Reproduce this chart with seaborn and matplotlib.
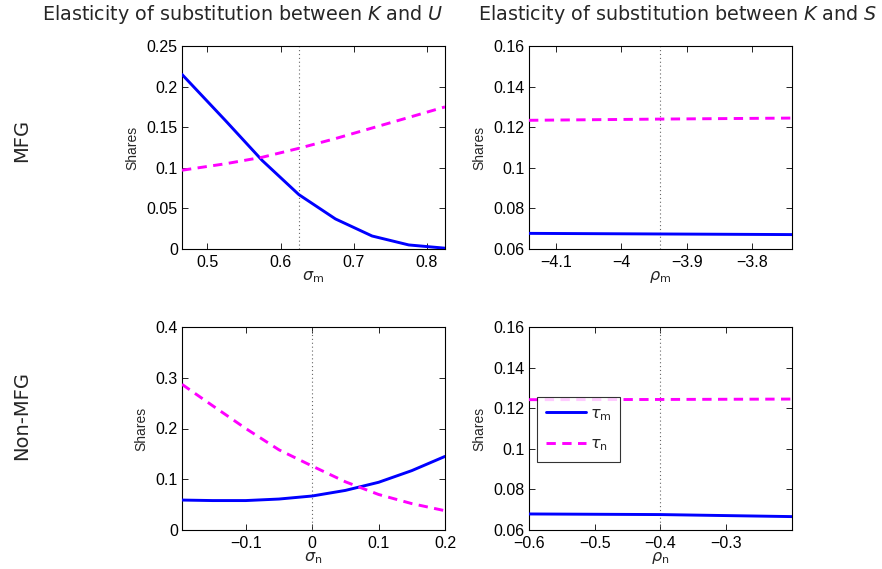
import matplotlib
matplotlib.use("Agg")
import matplotlib.pyplot as plt
import seaborn as sns
import pandas as pd

# ---------------- data ----------------
# MFG, elasticity K-U (sigma_m)
mfg_sigma = [0.4655, 0.525, 0.575, 0.625, 0.675, 0.725, 0.775, 0.8245]
mfg_sigma_tau_m = [0.215, 0.158, 0.109, 0.067, 0.037, 0.016, 0.005, 0.001]
mfg_sigma_tau_n = [0.097, 0.105, 0.113, 0.124, 0.136, 0.149, 0.162, 0.175]

# MFG, elasticity K-S (rho_m)
mfg_rho = [-4.141, -3.94, -3.739]
mfg_rho_tau_m = [0.0677, 0.0674, 0.0671]
mfg_rho_tau_n = [0.1234, 0.1240, 0.1245]

# Non-MFG, elasticity K-U (sigma_n)
non_sigma = [-0.196, -0.15, -0.1, -0.05, 0.0, 0.05, 0.1, 0.15, 0.2]
non_sigma_tau_m = [0.059, 0.058, 0.058, 0.061, 0.067, 0.078, 0.094, 0.117, 0.145]
non_sigma_tau_n = [0.287, 0.245, 0.200, 0.158, 0.126, 0.095, 0.070, 0.052, 0.038]

# Non-MFG, elasticity K-S (rho_n)
non_rho = [-0.6, -0.4, -0.2]
non_rho_tau_m = [0.0679, 0.0676, 0.0666]
non_rho_tau_n = [0.1242, 0.1243, 0.1245]

baselines = [0.625, -3.94, 0.0, -0.4]

col_titles = [r"Elasticity of substitution between $K$ and $U$",
              r"Elasticity of substitution between $K$ and $S$"]
row_titles = ["MFG", "Non-MFG"]
xlabels = [r"$\sigma_{\rm m}$", r"$\rho_{\rm m}$", r"$\sigma_{\rm n}$", r"$\rho_{\rm n}$"]
series_labels = [r"$\tau_{\rm m}$", r"$\tau_{\rm n}$"]

ylims = [(0, 0.25), (0.06, 0.16), (0, 0.4), (0.06, 0.16)]
yticks = [[0, 0.05, 0.1, 0.15, 0.2, 0.25],
          [0.06, 0.08, 0.1, 0.12, 0.14, 0.16],
          [0, 0.1, 0.2, 0.3, 0.4],
          [0.06, 0.08, 0.1, 0.12, 0.14, 0.16]]
xticks = [[0.5, 0.6, 0.7, 0.8],
          [-4.1, -4.0, -3.9, -3.8],
          [-0.1, 0, 0.1, 0.2],
          [-0.6, -0.5, -0.4, -0.3]]
xticklabels = [["0.5", "0.6", "0.7", "0.8"],
               ["\u22124.1", "\u22124", "\u22123.9", "\u22123.8"],
               ["\u22120.1", "0", "0.1", "0.2"],
               ["\u22120.6", "\u22120.5", "\u22120.4", "\u22120.3"]]
yticklabels = [["0", "0.05", "0.1", "0.15", "0.2", "0.25"],
               ["0.06", "0.08", "0.1", "0.12", "0.14", "0.16"],
               ["0", "0.1", "0.2", "0.3", "0.4"],
               ["0.06", "0.08", "0.1", "0.12", "0.14", "0.16"]]

panels = [
    (mfg_sigma, mfg_sigma_tau_m, mfg_sigma_tau_n),
    (mfg_rho, mfg_rho_tau_m, mfg_rho_tau_n),
    (non_sigma, non_sigma_tau_m, non_sigma_tau_n),
    (non_rho, non_rho_tau_m, non_rho_tau_n),
]

# ---------------- style ----------------
sns.set_style("ticks")
plt.rcParams["font.family"] = ["Liberation Sans", "DejaVu Sans"]
plt.rcParams["mathtext.fontset"] = "dejavusans"

fig = plt.figure(figsize=(8.82, 5.69), dpi=100)

W = 882.0
H = 569.0
lefts = [182, 529]
tops = [46, 327]
aw, ah = 263, 203

palette = {series_labels[0]: "#0000FF", series_labels[1]: "#FF00FF"}
dashes = {series_labels[0]: "", series_labels[1]: (3.2, 2.2)}

for i, (x, tm, tn) in enumerate(panels):
    r, c = divmod(i, 2)
    ax = fig.add_axes([lefts[c] / W, (H - tops[r] - ah) / H, aw / W, ah / H])
    df = pd.DataFrame({
        "x": list(x) * 2,
        "y": list(tm) + list(tn),
        "series": [series_labels[0]] * len(x) + [series_labels[1]] * len(x),
    })
    ax.axvline(baselines[i], color="#666666", ls=(0, (1, 2.5)), lw=0.8, zorder=1)
    sns.lineplot(data=df, x="x", y="y", hue="series", style="series",
                 palette=palette, dashes=dashes, lw=2.1, ax=ax,
                 legend=(i == 3), sort=False, zorder=3)
    ax.set_xlim(min(x), max(x))
    ax.set_ylim(*ylims[i])
    ax.set_xticks(xticks[i])
    ax.set_xticklabels(xticklabels[i])
    ax.set_yticks(yticks[i])
    ax.set_yticklabels(yticklabels[i])
    ax.tick_params(direction="in", top=True, right=True, length=4, width=0.6,
                   labelsize=11.5, colors="black")
    ax.tick_params(axis="x", pad=4.5)
    ax.tick_params(axis="y", pad=3)
    for s in ax.spines.values():
        s.set_linewidth(0.8)
        s.set_color("black")
    ax.set_xlabel(xlabels[i], fontsize=11.5, labelpad=-1)
    ax.set_ylabel("Shares", fontsize=10, labelpad=5)
    if i == 3:
        leg = ax.legend(loc="upper left", bbox_to_anchor=(0.03, 0.655),
                        borderaxespad=0, fontsize=11.5, frameon=True,
                        fancybox=False, edgecolor="black", handlelength=2.5,
                        borderpad=0.55, labelspacing=0.85, handletextpad=0.25)
        leg.get_frame().set_linewidth(0.8)
        leg.set_title(None)

# column titles
tfont = ["DejaVu Sans"]
fig.text(243 / W, 1 - 14 / H, col_titles[0], ha="center", va="center",
         fontsize=13.8, family=tfont)
fig.text(678 / W, 1 - 14 / H, col_titles[1], ha="center", va="center",
         fontsize=13.8, family=tfont)
# row titles
fig.text(22 / W, 1 - 140 / H, row_titles[0], ha="center", va="center",
         rotation=90, fontsize=14, family=tfont)
fig.text(22 / W, 1 - 416 / H, row_titles[1], ha="center", va="center",
         rotation=90, fontsize=14, family=tfont)

fig.savefig("out.png", dpi=100)
